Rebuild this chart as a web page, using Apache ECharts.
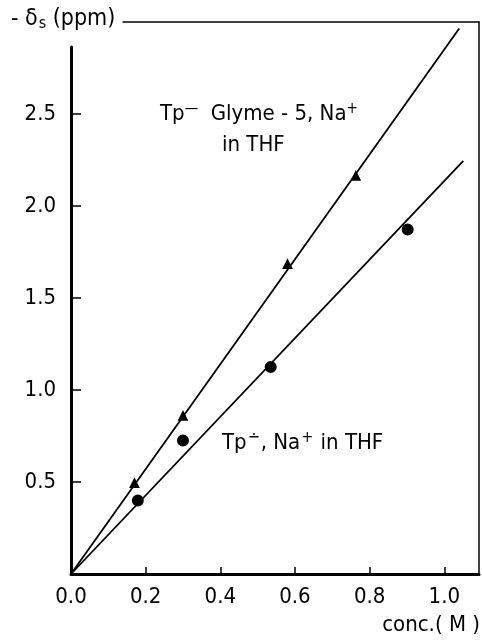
<!DOCTYPE html>
<html>
<head>
<meta charset="utf-8">
<script src="https://cdn.jsdelivr.net/npm/echarts@6/dist/echarts.min.js"></script>
<style>html,body{margin:0;padding:0;background:#fff}#c{width:482px;height:641px}</style>
</head>
<body>
<div id="c"></div>
<script>
// Data
const triConc = [0.17, 0.30, 0.58, 0.763];
const triShift = [0.50, 0.865, 1.69, 2.17];
const dotConc = [0.179, 0.30, 0.535, 0.902];
const dotShift = [0.40, 0.725, 1.125, 1.872];
const triFitConc = [0, 1.04];
const triFitShift = [0, 2.965];
const dotFitConc = [0, 1.051];
const dotFitShift = [0, 2.245];
const xTickValues = [0, 0.2, 0.4, 0.6, 0.8, 1.0];
const yTickValues = [0.5, 1.0, 1.5, 2.0, 2.5];

const FONT = "'Liberation Sans Narrow', 'DejaVu Sans Condensed', 'Roboto Condensed', sans-serif";
const zip = (a, b) => a.map((v, i) => [v, b[i]]);

const chart = echarts.init(document.getElementById('c'), null, {renderer: 'canvas'});
const hidden = {show: false};
chart.setOption({
  animation: false,
  backgroundColor: '#fff',
  grid: [
    {left: 71, right: 3, top: 22, bottom: 67},
    {left: 71, right: 3, top: 47, bottom: 67},
    {left: 123, right: 3, top: 22, bottom: 67}
  ],
  xAxis: [
    {
      gridIndex: 0, type: 'value', min: 0, max: 1.093, interval: 0.2,
      axisLine: {show: true, onZero: false, lineStyle: {color: '#000', width: 3}},
      axisTick: {show: true, inside: true, length: 7, lineStyle: {color: '#000', width: 1.5}},
      axisLabel: {
        show: true, showMaxLabel: false, margin: 12, color: '#000',
        fontFamily: FONT, fontSize: 22,
        formatter: v => xTickValues.some(t => Math.abs(t - v) < 1e-6) ? v.toFixed(1) : ''
      },
      splitLine: hidden
    },
    {gridIndex: 1, type: 'value', min: 0, max: 1, axisLine: hidden, axisTick: hidden, axisLabel: hidden, splitLine: hidden},
    {
      gridIndex: 2, type: 'value', min: 0, max: 1, position: 'top',
      axisLine: {show: true, onZero: false, lineStyle: {color: '#000', width: 1.5}},
      axisTick: hidden, axisLabel: hidden, splitLine: hidden
    }
  ],
  yAxis: [
    {
      gridIndex: 0, type: 'value', min: 0, max: 3.0, interval: 0.5,
      axisLine: {show: false},
      axisTick: {show: true, inside: true, length: 10, lineStyle: {color: '#000', width: 1.5}},
      axisLabel: {
        show: true, showMinLabel: false, showMaxLabel: false, margin: 15, color: '#000',
        fontFamily: FONT, fontSize: 22,
        formatter: v => yTickValues.some(t => Math.abs(t - v) < 1e-6) ? v.toFixed(1) : ''
      },
      splitLine: hidden
    },
    {
      gridIndex: 1, type: 'value', min: 0, max: 1,
      axisLine: {show: true, onZero: false, lineStyle: {color: '#000', width: 3}},
      axisTick: hidden, axisLabel: hidden, splitLine: hidden
    },
    {
      gridIndex: 2, type: 'value', min: 0, max: 1, position: 'right',
      axisLine: {show: true, onZero: false, lineStyle: {color: '#000', width: 1.5}},
      axisTick: hidden, axisLabel: hidden, splitLine: hidden
    }
  ],
  series: [
    {type: 'line', xAxisIndex: 0, yAxisIndex: 0, data: zip(triFitConc, triFitShift), showSymbol: false, lineStyle: {color: '#000', width: 1.8}},
    {type: 'line', xAxisIndex: 0, yAxisIndex: 0, data: zip(dotFitConc, dotFitShift), showSymbol: false, lineStyle: {color: '#000', width: 1.8}},
    {type: 'scatter', xAxisIndex: 0, yAxisIndex: 0, data: zip(triConc, triShift), symbol: 'triangle', symbolSize: 14,
      itemStyle: {color: '#000', opacity: 1, borderColor: '#fff', borderWidth: 2}},
    {type: 'scatter', xAxisIndex: 0, yAxisIndex: 0, data: zip(dotConc, dotShift), symbol: 'circle', symbolSize: 14,
      itemStyle: {color: '#000', opacity: 1, borderColor: '#fff', borderWidth: 2}}
  ],
  graphic: [
    {
      type: 'text', left: 11, top: 8,
      style: {
        text: '{b|- δ}{s|s}{b| (ppm)}',
        rich: {
          b: {fontFamily: FONT, fontSize: 23, fill: '#000'},
          s: {fontFamily: FONT, fontSize: 16, fill: '#000', padding: [9, 0, 0, 1]}
        }
      }
    },
    {
      type: 'text', left: 160, top: 102,
      style: {
        text: '{b|Tp}{u|—}{b|  Glyme - 5, Na}{u|+}',
        rich: {
          b: {fontFamily: FONT, fontSize: 22, fill: '#000'},
          u: {fontFamily: FONT, fontSize: 15, fill: '#000', verticalAlign: 'top', padding: [0, 0, 10, 0]}
        }
      }
    },
    {
      type: 'text', left: 222, top: 134,
      style: {text: 'in THF', font: '22px ' + FONT, fill: '#000'}
    },
    {
      type: 'text', left: 222, top: 430,
      style: {
        text: '{b|Tp}{u|∸}{b|, Na}{u|+}{b| in THF}',
        rich: {
          b: {fontFamily: FONT, fontSize: 22, fill: '#000'},
          u: {fontFamily: FONT, fontSize: 16, fill: '#000', verticalAlign: 'top', padding: [0, 1, 10, 1]}
        }
      }
    },
    {
      type: 'text', right: 2, top: 614,
      style: {text: 'conc.( M )', font: '22px ' + FONT, fill: '#000'}
    }
  ]
});
</script>
</body>
</html>
